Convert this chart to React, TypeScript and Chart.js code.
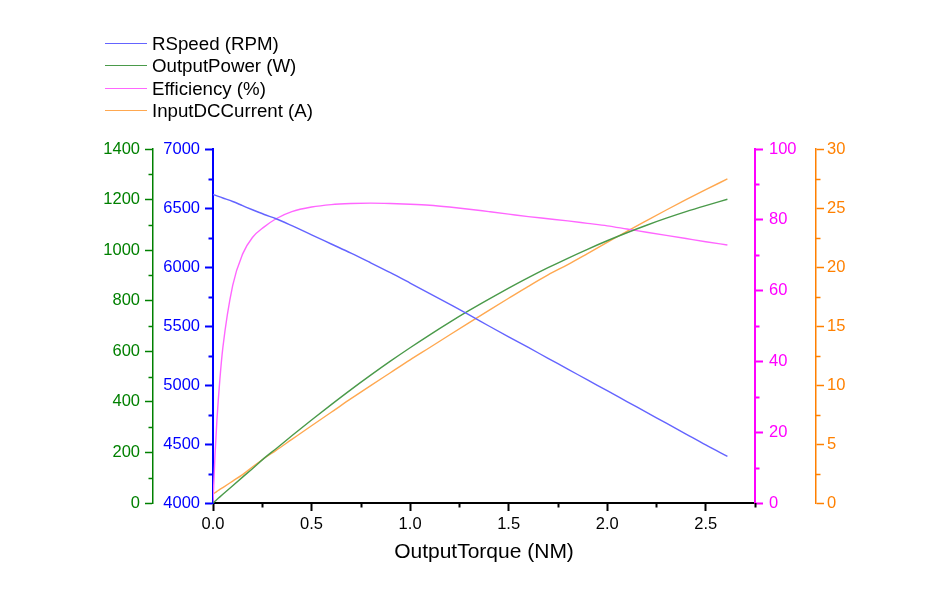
import React, { useEffect, useRef } from "react";
import { Chart, registerables } from "chart.js";

Chart.register(...registerables);

// ---- data ----
const torque = [0, 0.01, 0.02, 0.035, 0.05, 0.1, 0.15, 0.2, 0.26, 0.32, 0.4, 0.5, 0.6, 0.7, 0.8, 0.9, 1.0, 1.1, 1.2, 1.3, 1.4, 1.5, 1.6, 1.7, 1.8, 1.9, 2.0, 2.1, 2.2, 2.3, 2.4, 2.5, 2.61];
const speedRPM = [6615, 6609, 6603, 6594, 6585, 6555, 6520, 6485, 6445, 6409, 6350, 6272, 6195, 6118, 6036, 5952, 5864, 5775, 5685, 5594, 5500, 5408, 5318, 5226, 5135, 5043, 4952, 4860, 4768, 4676, 4584, 4492, 4395];
const outputPowerW = [0, 6.9, 13.8, 24.2, 34.5, 68.6, 102.4, 135.8, 177.4, 214.8, 266.0, 328.4, 389.2, 448.5, 505.7, 561.0, 614.1, 665.2, 714.4, 761.5, 806.3, 849.5, 891.1, 930.4, 967.9, 1003.4, 1037.1, 1068.8, 1098.5, 1126.3, 1152.1, 1176.0, 1201.2];
const efficiencyPct = [0, 13.3, 23.5, 35.0, 43.9, 61.5, 70.3, 75.0, 78.0, 80.3, 82.3, 83.6, 84.3, 84.6, 84.7, 84.6, 84.4, 84.1, 83.6, 83.0, 82.3, 81.6, 80.9, 80.3, 79.7, 79.0, 78.3, 77.4, 76.5, 75.6, 74.7, 73.8, 72.9];
const inputCurrentA = [0.76, 0.87, 0.98, 1.15, 1.31, 1.86, 2.41, 3.05, 3.79, 4.46, 5.39, 6.55, 7.69, 8.84, 9.95, 11.04, 12.13, 13.18, 14.24, 15.29, 16.33, 17.35, 18.36, 19.33, 20.21, 21.14, 22.08, 23.02, 23.93, 24.83, 25.71, 26.56, 27.46];

const xTickValues = [0, 0.5, 1.0, 1.5, 2.0, 2.5];
const seriesLabels = ["RSpeed (RPM)", "OutputPower (W)", "Efficiency (%)", "InputDCCurrent (A)"];
const xTitle = "OutputTorque (NM)";

const FONT = '"Liberation Sans", Arial, Helvetica, sans-serif';

const C_BLUE = "#0000ff";
const C_GREEN = "#008000";
const C_MAGENTA = "#ff00ff";
const C_ORANGE = "#ff8000";

const legendPlugin = {
  id: "customLegend",
  afterDraw(chart: any) {
    const ctx = chart.ctx;
    ctx.save();
    chart.data.datasets.forEach((ds: any, i: number) => {
      const y = Math.round(42.5 + i * 22.5) + 0.5;
      ctx.strokeStyle = ds.borderColor;
      ctx.lineWidth = 1.2;
      ctx.beginPath();
      ctx.moveTo(105, y);
      ctx.lineTo(147, y);
      ctx.stroke();
      ctx.fillStyle = "#000";
      ctx.font = `18.7px ${FONT}`;
      ctx.textBaseline = "middle";
      ctx.textAlign = "left";
      ctx.fillText(ds.label, 152, y + 1);
    });
    ctx.restore();
  },
};

const minorTicksPlugin = {
  id: "minorTicks",
  afterDraw(chart: any) {
    const ctx = chart.ctx;
    Object.values(chart.scales).forEach((s: any) => {
      const ticks = s.ticks;
      if (!ticks || ticks.length < 2) return;
      const step = ticks[1].value - ticks[0].value;
      const len = 4.5;
      ctx.save();
      ctx.strokeStyle = s.options.border.color;
      ctx.lineWidth = s.options.border.width;
      for (let v = ticks[0].value + step / 2; v <= s.max + 1e-9; v += step) {
        const p = Math.round(s.getPixelForValue(v)) + 0.5;
        ctx.beginPath();
        if (s.position === "left") {
          ctx.moveTo(s.right - len, p);
          ctx.lineTo(s.right, p);
        } else if (s.position === "right") {
          ctx.moveTo(s.left, p);
          ctx.lineTo(s.left + len, p);
        } else {
          ctx.moveTo(p, s.top);
          ctx.lineTo(p, s.top + len);
        }
        ctx.stroke();
      }
      ctx.restore();
    });
  },
};

function yAxis(position: "left" | "right", weight: number, color: string, min: number, max: number, step: number, width: number, pad: number, borderW: number) {
  return {
    type: "linear",
    position,
    weight,
    min,
    max,
    border: { display: true, color, width: borderW },
    grid: { drawOnChartArea: false, drawTicks: true, tickLength: 8, color, tickColor: color, tickWidth: borderW },
    ticks: { stepSize: step, color, padding: pad, font: { size: 16.5, family: FONT }, callback: (v: any) => String(v) },
    afterFit: (scale: any) => {
      scale.width = width;
    },
  };
}

export default function App() {
  const ref = useRef<HTMLCanvasElement | null>(null);

  useEffect(() => {
    if (!ref.current) return;
    const mk = (vals: number[]) => torque.map((t, i) => ({ x: t, y: vals[i] }));
    const common = { pointRadius: 0, borderWidth: 1.4, cubicInterpolationMode: "monotone", fill: false };
    const chart = new Chart(ref.current, {
      type: "line",
      data: {
        datasets: [
          { ...common, label: seriesLabels[0], data: mk(speedRPM), borderColor: "#6464ff", yAxisID: "ySpeed" },
          { ...common, label: seriesLabels[1], data: mk(outputPowerW), borderColor: "#4a9a4a", yAxisID: "yPower" },
          { ...common, label: seriesLabels[2], data: mk(efficiencyPct), borderColor: "#ff66ff", yAxisID: "yEff" },
          { ...common, label: seriesLabels[3], data: mk(inputCurrentA), borderColor: "#ffa850", yAxisID: "yCur" },
        ],
      },
      options: {
        responsive: false,
        animation: false,
        layout: { padding: { left: 93, right: 74, top: 149, bottom: 27 } },
        plugins: { legend: { display: false }, tooltip: { enabled: false } },
        scales: {
          x: {
            type: "linear",
            position: "bottom",
            min: 0,
            max: 2.75,
            border: { display: true, color: "#000", width: 2 },
            grid: { drawOnChartArea: false, drawTicks: true, tickLength: 8, color: "#000", tickColor: "#000", tickWidth: 2 },
            ticks: {
              stepSize: 0.5,
              color: "#000",
              padding: 4,
              maxRotation: 0,
              autoSkip: false,
              font: { size: 16.5, family: FONT },
              callback: (v: any) => Number(v).toFixed(1),
            },
            afterBuildTicks: (scale: any) => {
              scale.ticks = xTickValues.map((v) => ({ value: v }));
            },
            title: { display: true, text: xTitle, color: "#000", font: { size: 21, family: FONT }, padding: { top: 0, bottom: 8 } },
            afterFit: (scale: any) => {
              scale.height = 70;
            },
          },
          ySpeed: yAxis("left", 0, C_BLUE, 4000, 7000, 500, 60, 5, 2),
          yPower: yAxis("left", 1, C_GREEN, 0, 1400, 200, 60, 5, 1.5),
          yEff: yAxis("right", 0, C_MAGENTA, 0, 100, 20, 61, 6, 2),
          yCur: yAxis("right", 1, C_ORANGE, 0, 30, 5, 60, 3, 1.5),
        } as any,
      },
      plugins: [legendPlugin, minorTicksPlugin],
    } as any);
    return () => chart.destroy();
  }, []);

  return (
    <div style={{ position: "absolute", left: 0, top: 0, width: 950, height: 600, background: "#fff" }}>
      <canvas ref={ref} width={950} height={600} />
    </div>
  );
}
